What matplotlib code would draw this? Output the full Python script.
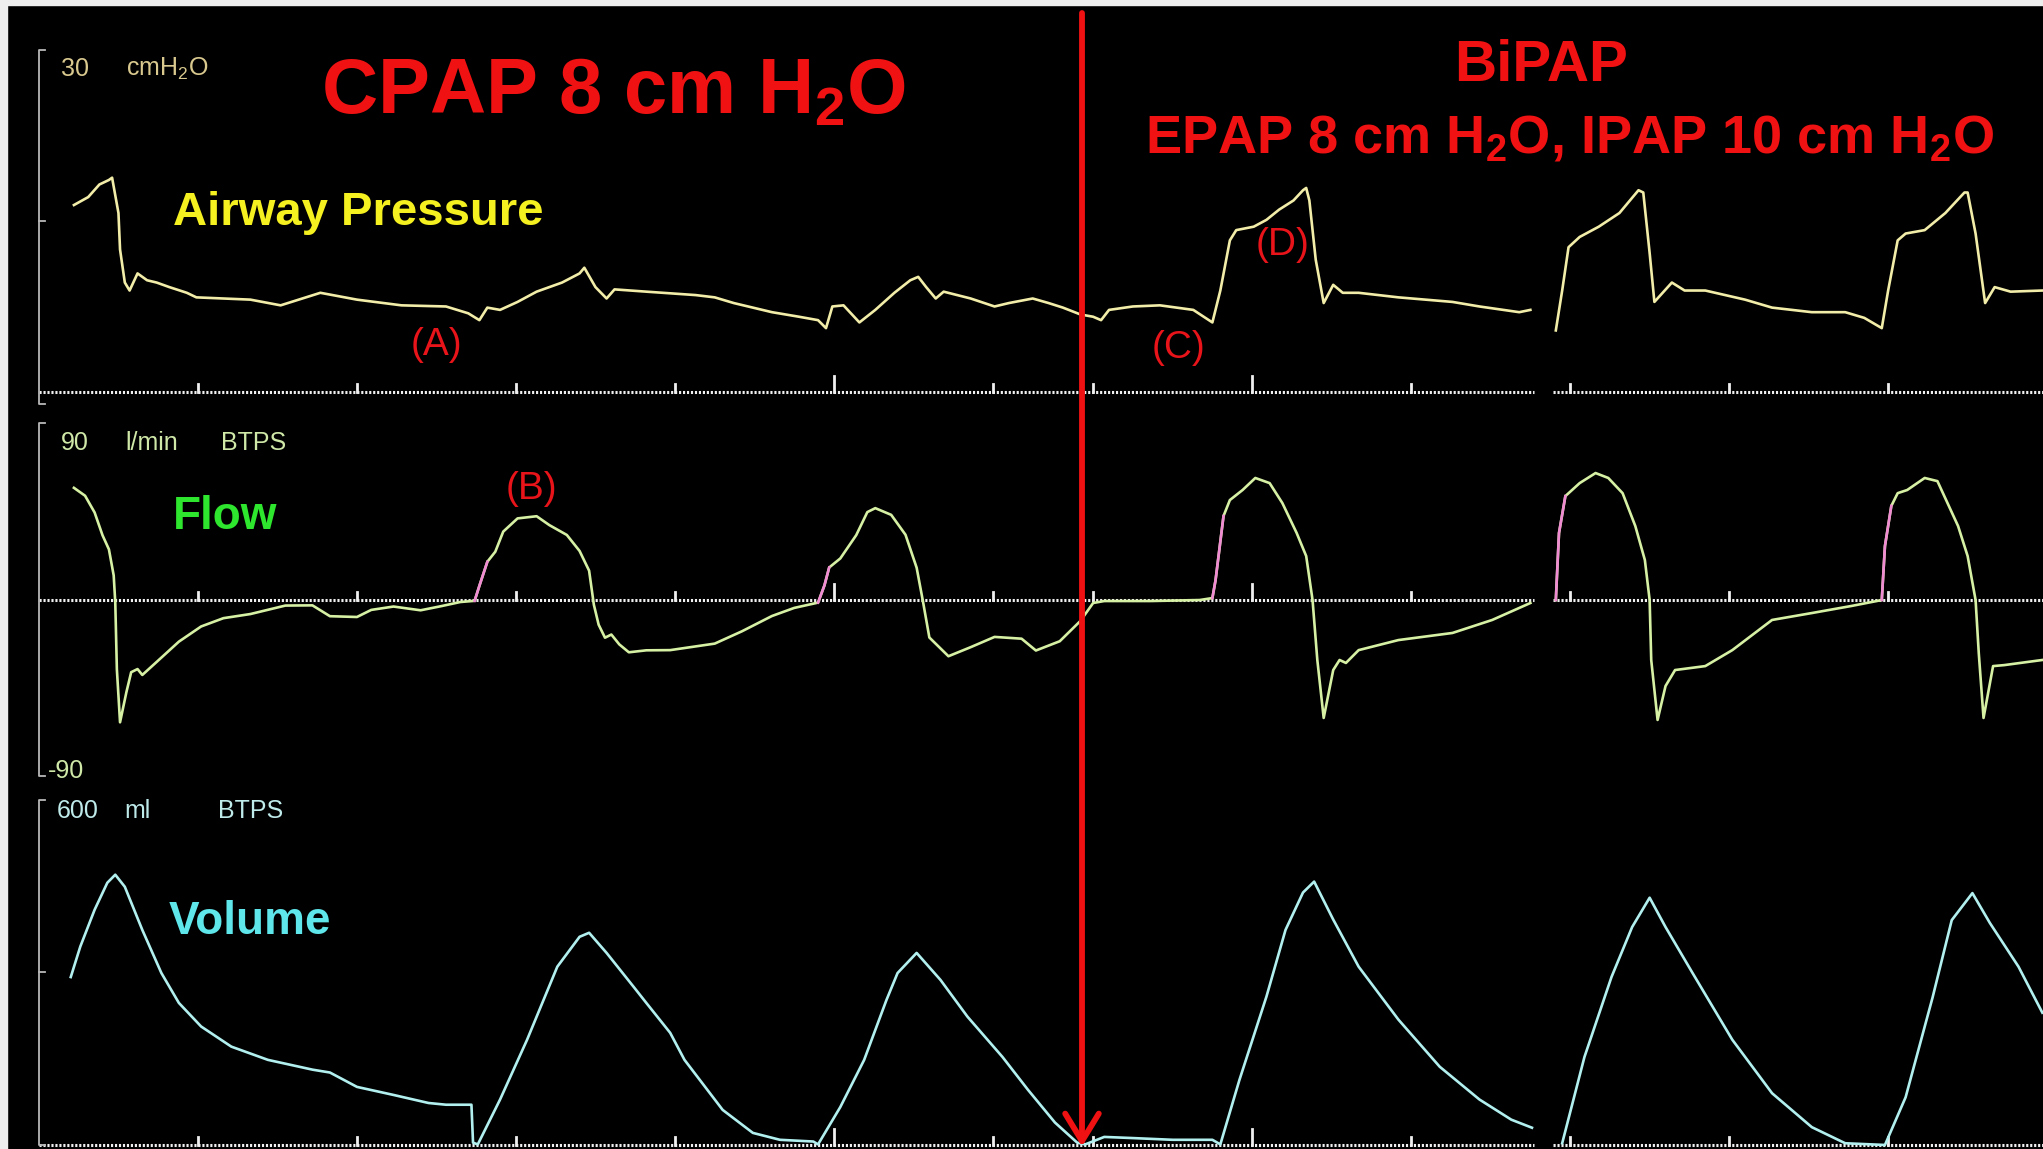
import numpy as np
import matplotlib
matplotlib.use("Agg")
import matplotlib.pyplot as plt
from matplotlib import font_manager
from matplotlib.patches import Rectangle

# fonts: Arial-like bold for overlays, narrow sans for the monitor labels
plt.rcParams["font.family"] = ["Liberation Sans", "DejaVu Sans"]
plt.rcParams["mathtext.fontset"] = "custom"
plt.rcParams["mathtext.rm"] = "Liberation Sans"
plt.rcParams["mathtext.bf"] = "Liberation Sans:bold"
_installed = {f.name for f in font_manager.fontManager.ttflist}
SCREEN_FONT = "Liberation Sans Narrow" if "Liberation Sans Narrow" in _installed else "Liberation Sans"

W, H = 2043, 1149

# ---- sweep time axis (s) ----
T_MIN, T_MAX = -0.245, 12.604
SPLICE_T = 6.56             # CPAP -> BiPAP switch
SWEEP_GAP = (9.40, 9.52)    # erase bar of the monitor sweep
ticks_left = [1, 2, 3, 4, 5, 6]
ticks_right = [6.63, 7.63, 8.63, 9.63, 10.63, 11.63]
ticks_tall = [5, 7.63]

# ---- airway pressure (cmH2O) ----
paw_t1 = [0.22, 0.31, 0.38, 0.44, 0.46, 0.50, 0.51, 0.54, 0.57, 0.62,
          0.68, 0.74, 0.82, 0.93, 0.99, 1.33, 1.52, 1.77, 2.00, 2.28,
          2.56, 2.70, 2.77, 2.82, 2.90, 3.01, 3.13, 3.29, 3.40, 3.43,
          3.50, 3.57, 3.62, 3.82, 4.13, 4.25, 4.37, 4.61, 4.78, 4.90,
          4.95, 4.99, 5.06, 5.16, 5.26, 5.38, 5.48, 5.53, 5.58, 5.64,
          5.69, 5.86, 6.01, 6.10, 6.25, 6.35, 6.44, 6.55, 6.63, 6.68,
          6.73, 6.88, 7.05, 7.26, 7.38, 7.43, 7.49, 7.53, 7.64, 7.72,
          7.80, 7.89, 7.95, 7.97, 7.99, 8.03, 8.08, 8.14, 8.20, 8.30,
          8.55, 8.89, 9.06, 9.31, 9.38]
paw_1 = [16.4, 17.1, 18.2, 18.6, 18.8, 15.7, 12.5, 9.6, 8.9, 10.4,
         9.8, 9.6, 9.2, 8.7, 8.3, 8.1, 7.6, 8.7, 8.1, 7.6,
         7.5, 6.9, 6.3, 7.4, 7.2, 7.9, 8.8, 9.6, 10.4, 10.9,
         9.2, 8.2, 9.0, 8.8, 8.5, 8.3, 7.8, 7.0, 6.6, 6.3,
         5.6, 7.5, 7.6, 6.1, 7.2, 8.7, 9.8, 10.1, 9.2, 8.2,
         8.8, 8.2, 7.5, 7.8, 8.2, 7.8, 7.4, 6.8, 6.6, 6.3,
         7.2, 7.5, 7.6, 7.2, 6.1, 8.9, 13.3, 14.2, 14.5, 15.1,
         16.0, 16.8, 17.7, 17.9, 16.8, 11.6, 7.8, 9.4, 8.7, 8.7,
         8.3, 7.9, 7.5, 7.0, 7.2]
paw_t2 = [9.54, 9.58, 9.62, 9.69, 9.81, 9.94, 10.06, 10.09, 10.13, 10.16,
          10.27, 10.35, 10.48, 10.73, 10.90, 11.15, 11.36, 11.48, 11.59, 11.63,
          11.69, 11.74, 11.86, 11.99, 12.11, 12.13, 12.18, 12.24, 12.30, 12.40,
          12.60]
paw_2 = [5.4, 8.9, 12.7, 13.6, 14.5, 15.7, 17.7, 17.5, 12.2, 7.9,
         9.6, 8.9, 8.9, 8.1, 7.4, 7.0, 7.0, 6.5, 5.6, 8.9,
         13.3, 13.9, 14.2, 15.7, 17.5, 17.5, 13.9, 7.8, 9.2, 8.8,
         8.9]

# ---- flow (l/min BTPS) ----
flow_t1 = [0.22, 0.29, 0.35, 0.40, 0.44, 0.47, 0.48, 0.49, 0.51, 0.55,
           0.58, 0.62, 0.65, 0.74, 0.88, 1.02, 1.16, 1.33, 1.55, 1.72,
           1.83, 2.00, 2.09, 2.23, 2.40, 2.53, 2.65, 2.74, 2.77, 2.82,
           2.87, 2.92, 3.01, 3.13, 3.21, 3.32, 3.40, 3.46, 3.49, 3.52,
           3.56, 3.60, 3.65, 3.71, 3.82, 3.97, 4.25, 4.42, 4.61, 4.75,
           4.90, 4.94, 4.97, 5.04, 5.14, 5.21, 5.26, 5.36, 5.45, 5.52,
           5.56, 5.60, 5.72, 5.86, 6.01, 6.18, 6.27, 6.42, 6.55, 6.63,
           6.70, 6.99, 7.30, 7.38, 7.40, 7.45, 7.49, 7.57, 7.65, 7.74,
           7.82, 7.91, 7.97, 8.01, 8.04, 8.08, 8.14, 8.18, 8.22, 8.30,
           8.55, 8.89, 9.14, 9.38]
flow_1 = [56.9, 52.9, 44.4, 32.8, 25.7, 12.5, -1.2, -35.1, -62.0, -46.7,
          -36.6, -35.0, -38.0, -31.4, -21.1, -13.4, -9.2, -7.1, -2.8, -2.7,
          -8.2, -8.6, -5.0, -3.3, -5.2, -3.1, -1.0, -0.4, 7.2, 19.4,
          24.5, 34.7, 41.4, 42.5, 38.0, 33.0, 24.9, 14.9, -2.4, -12.5,
          -19.1, -17.5, -22.5, -26.5, -25.5, -25.4, -22.1, -15.9, -8.1, -4.0,
          -1.3, 7.4, 16.5, 21.1, 32.9, 44.6, 46.6, 43.2, 33.1, 16.4,
          -0.8, -19.0, -28.5, -23.9, -18.7, -19.6, -25.6, -20.9, -10.6, -1.5,
          -0.5, -0.5, 0.0, 1.0, 10.1, 42.6, 50.7, 55.8, 61.9, 59.3,
          49.2, 34.0, 22.3, 0.0, -30.4, -59.8, -35.5, -30.4, -31.9, -25.4,
          -20.3, -16.7, -10.1, -1.5]
flow_t2 = [9.54, 9.56, 9.60, 9.69, 9.79, 9.87, 9.96, 10.04, 10.10, 10.13,
           10.14, 10.18, 10.23, 10.29, 10.48, 10.65, 10.90, 11.15, 11.40, 11.59,
           11.61, 11.65, 11.69, 11.75, 11.86, 11.94, 12.07, 12.13, 12.18, 12.20,
           12.23, 12.29, 12.36, 12.60]
flow_2 = [0.0, 34.0, 52.7, 59.3, 64.4, 61.9, 54.2, 37.5, 20.3, 0.0,
          -30.4, -60.8, -43.6, -35.5, -33.5, -25.4, -10.1, -6.6, -3.0, 0.0,
          27.4, 47.7, 54.2, 55.8, 61.9, 60.3, 37.5, 22.3, 0.0, -26.9,
          -59.8, -33.5, -33.0, -30.4]
# patient trigger phases (shown in pink on the monitor)
trigger_windows = [(2.74, 2.82), (4.90, 4.97), (7.38, 7.45), (9.54, 9.60), (11.59, 11.65)]

# ---- volume (ml BTPS) ----
vol_t1 = [0.20, 0.26, 0.35, 0.43, 0.48, 0.54, 0.65, 0.77, 0.88, 1.02,
          1.21, 1.44, 1.72, 1.83, 2.00, 2.23, 2.45, 2.56, 2.72, 2.73,
          2.76, 2.90, 3.07, 3.26, 3.40, 3.46, 3.57, 3.74, 3.82, 3.97,
          4.06, 4.30, 4.49, 4.66, 4.87, 4.90, 5.04, 5.19, 5.33, 5.40,
          5.52, 5.67, 5.84, 6.06, 6.22, 6.39, 6.53, 6.58, 6.70, 6.88,
          7.13, 7.38, 7.43, 7.55, 7.72, 7.84, 7.95, 8.02, 8.14, 8.30,
          8.55, 8.81, 9.06, 9.26, 9.39]
vol_1 = [292, 345, 409, 456, 470, 449, 374, 299, 247, 206,
         171, 148, 131, 126, 101, 87, 73, 70, 70, 4,
         1, 79, 183, 310, 362, 369, 334, 275, 247, 195,
         148, 61, 21, 9, 6, 1, 66, 148, 252, 299,
         334, 287, 223, 153, 96, 39, 4, 1, 14, 12,
         9, 9, 1, 113, 258, 374, 439, 458, 392, 310,
         218, 136, 79, 44, 30]
vol_t2 = [9.58, 9.72, 9.89, 10.02, 10.13, 10.23, 10.40, 10.65, 10.90, 11.15,
          11.36, 11.61, 11.74, 11.91, 12.03, 12.16, 12.27, 12.45, 12.60]
vol_2 = [3, 153, 292, 379, 430, 379, 299, 183, 90, 31,
         3, 0, 83, 257, 391, 438, 386, 310, 230]

# ---- colours ----
RED = "#f01212"
C_PAW, C_FLOW, C_VOL = "#f2eda8", "#d6f0a4", "#b2f0f0"
C_TRIG = "#f08ad2"
C_GRID = "#f0f0f0"


def fx(px):
    return px / W


def fy(py):
    return 1 - py / H


fig = plt.figure(figsize=(W / 100, H / 100), dpi=100, facecolor="black")

# panel rectangles in pixels (top, bottom) and the value range they show
panels = [
    dict(top=40, bottom=420, ylim=(-2.46, 30.88), tick=(0.7, 1.4)),
    dict(top=420, bottom=785, ylim=(-93.8, 91.3), tick=(4.0, 8.0)),
    dict(top=785, bottom=1149, ylim=(-7.0, 626.0), tick=(14.0, 28.0)),
]
axes = []
for p in panels:
    ax = fig.add_axes([0, fy(p["bottom"]), 1, (p["bottom"] - p["top"]) / H])
    ax.set_xlim(T_MIN, T_MAX)
    ax.set_ylim(*p["ylim"])
    ax.set_facecolor("none")
    ax.axis("off")
    axes.append(ax)
ax_p, ax_f, ax_v = axes


def draw_baseline(ax, short, tall):
    # dotted zero line with the one-second marks, broken by the sweep bar
    for a, b in [(0, SWEEP_GAP[0]), (SWEEP_GAP[1], T_MAX)]:
        ax.plot([a, b], [0, 0], color=C_GRID, lw=2.2, ls=(0, (0.7, 0.6)), zorder=1)
    for t in ticks_left + ticks_right:
        h = tall if t in ticks_tall else short
        ax.plot([t, t], [0, h], color=C_GRID, lw=2.0, zorder=1)


def draw_bracket(ax, top, bottom, mid=None):
    nub = 0.035
    ax.plot([nub, 0, 0, nub], [top, top, bottom, bottom], color="#b8b8b8", lw=1.3)
    if mid is not None:
        ax.plot([0, nub], [mid, mid], color="#b8b8b8", lw=1.3)


for ax, p in zip(axes, panels):
    draw_baseline(ax, *p["tick"])
draw_bracket(ax_p, 30, -1.1, mid=15)
draw_bracket(ax_f, 90, -89)
draw_bracket(ax_v, 600, 0, mid=300)

# traces
lw = 1.9
ax_p.plot(paw_t1, paw_1, color=C_PAW, lw=lw, zorder=3)
ax_p.plot(paw_t2, paw_2, color=C_PAW, lw=lw, zorder=3)
for tt, ff in [(flow_t1, flow_1), (flow_t2, flow_2)]:
    tt, ff = np.asarray(tt), np.asarray(ff)
    ax_f.plot(tt, ff, color=C_FLOW, lw=lw, zorder=3)
    for a, b in trigger_windows:
        m = (tt >= a - 1e-6) & (tt <= b + 1e-6)
        if m.sum() > 1:
            ax_f.plot(tt[m], ff[m], color=C_TRIG, lw=lw, zorder=4)
ax_v.plot(vol_t1, vol_1, color=C_VOL, lw=lw, zorder=3)
ax_v.plot(vol_t2, vol_2, color=C_VOL, lw=lw, zorder=3)

# monitor scale labels
screen_labels = [
    ("30", 61, 76, "#d9c98f"), (r"cmH$_2$O", 126, 76, "#d9c98f"),
    ("90", 61, 450, "#cfe8a8"), ("l/min", 125, 450, "#cfe8a8"), ("BTPS", 221, 450, "#cfe8a8"),
    ("-90", 48, 778, "#cfe8a8"),
    ("600", 57, 818, "#bfeaea"), ("ml", 124, 818, "#bfeaea"), ("BTPS", 218, 818, "#bfeaea"),
]
for s, x, y, c in screen_labels:
    fig.text(fx(x), fy(y), s, color=c, fontsize=18, family=SCREEN_FONT, ha="left", va="baseline")

# channel names
fig.text(fx(173), fy(225), "Airway Pressure", color="#f5f020", fontsize=34, fontweight="bold", va="baseline")
fig.text(fx(173), fy(529), "Flow", color="#2ee62e", fontsize=33, fontweight="bold", va="baseline")
fig.text(fx(169), fy(934), "Volume", color="#5ee6ea", fontsize=33, fontweight="bold", va="baseline")

# mode headings
fig.text(fx(614), fy(113), r"CPAP 8 cm H$_\mathbf{2}$O", color=RED, fontsize=56,
         fontweight="bold", ha="center", va="baseline")
fig.text(fx(1541), fy(81), "BiPAP", color=RED, fontsize=42, fontweight="bold",
         ha="center", va="baseline")
fig.text(fx(1569), fy(153), r"EPAP 8 cm H$_\mathbf{2}$O, IPAP 10 cm H$_\mathbf{2}$O", color=RED,
         fontsize=39, fontweight="bold", ha="center", va="baseline")

# point labels
ax_p.text(2.50, 4.1, "(A)", color="#e8141a", fontsize=28, ha="center", va="center")
ax_f.text(3.10, 56.3, "(B)", color="#e8141a", fontsize=28, ha="center", va="center")
ax_p.text(7.17, 3.9, "(C)", color="#e8141a", fontsize=28, ha="center", va="center")
ax_p.text(7.82, 12.9, "(D)", color="#e8141a", fontsize=28, ha="center", va="center")

# switch-over marker running down the full screen
ax_o = fig.add_axes([0, 0, 1, 1], facecolor="none")
ax_o.set_xlim(T_MIN, T_MAX)
ax_o.set_ylim(0, 1)
ax_o.axis("off")
ax_o.annotate("", xy=(SPLICE_T, 0.002), xytext=(SPLICE_T, fy(13)),
              arrowprops=dict(arrowstyle="->, head_length=0.9, head_width=0.55",
                              color=RED, lw=4.2, mutation_scale=22, shrinkA=0, shrinkB=0),
              zorder=10)

# photo frame edge
fig.patches.append(Rectangle((0, fy(5)), 1, 5 / H, transform=fig.transFigure, color="#eeeeee", zorder=20))
fig.patches.append(Rectangle((0, 0), 7 / W, 1, transform=fig.transFigure, color="#eeeeee", zorder=20))

fig.savefig("out.png", dpi=100, facecolor="black")
